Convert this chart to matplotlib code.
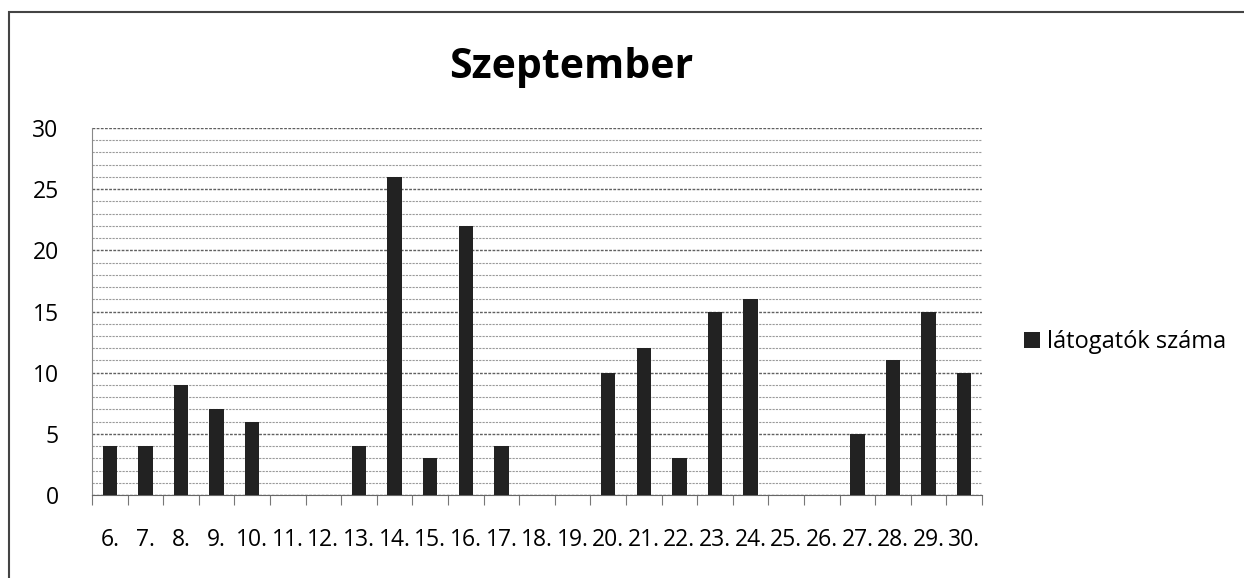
import numpy as np
import matplotlib.pyplot as plt
from matplotlib.patches import Rectangle

days = ["6.", "7.", "8.", "9.", "10.", "11.", "12.", "13.", "14.", "15.", "16.", "17.", "18.",
        "19.", "20.", "21.", "22.", "23.", "24.", "25.", "26.", "27.", "28.", "29.", "30."]
visitors = [4, 4, 9, 7, 6, 0, 0, 4, 26, 3, 22, 4, 0, 0, 10, 12, 3, 15, 16, 0, 0, 5, 11, 15, 10]

plt.rcParams['font.family'] = ['Open Sans', 'DejaVu Sans']

W, H = 1244, 578
fig = plt.figure(figsize=(W / 100, H / 100), dpi=100)
ax = fig.add_axes([92 / W, 1 - 495 / H, (982 - 92) / W, (495 - 128) / H])

x = np.arange(len(days))
ax.bar(x, visitors, width=0.4, color="#222222", zorder=3, label="látogatók száma")

ax.set_xlim(-0.5, len(days) - 0.5)
ax.set_ylim(0, 30)
ax.set_yticks(np.arange(0, 31, 5))
ax.set_yticks(np.arange(0, 31, 1), minor=True)
ax.grid(axis="y", which="minor", color="#9a9a9a", lw=0.8, ls=(0, (2, 1)), zorder=0)
ax.grid(axis="y", which="major", color="#606060", lw=1.0, ls=(0, (2, 1)), zorder=1)

ax.set_xticks(x)
ax.set_xticklabels(days, fontsize=16.5)
ax.tick_params(axis="x", which="major", length=0, pad=24)
ax.set_xticks(np.arange(-0.5, len(days), 1), minor=True)
ax.tick_params(axis="x", which="minor", length=7, color="#777777", width=0.8)
ax.tick_params(axis="y", which="both", length=0, labelsize=16.5, pad=24)

for side in ["top", "right"]:
    ax.spines[side].set_visible(False)
ax.spines["left"].set_color("#888888")
ax.spines["bottom"].set_color("#666666")

fig.text(571 / W, 1 - 67 / H, "Szeptember", fontsize=29.5, fontweight="bold",
         ha="center", va="center")

ax.legend(loc="center left", bbox_to_anchor=(1.037, 1 - (342 - 128) / (495 - 128)),
          frameon=False, fontsize=17, handlelength=0.65, handleheight=0.65,
          handletextpad=0.3, borderaxespad=0)

fig.patches.append(Rectangle((9 / W, -0.1), 1.2, 1 - 12 / H + 0.1,
                             transform=fig.transFigure, fill=False,
                             edgecolor="#444444", lw=1.5))

plt.savefig("out.png", dpi=100)
